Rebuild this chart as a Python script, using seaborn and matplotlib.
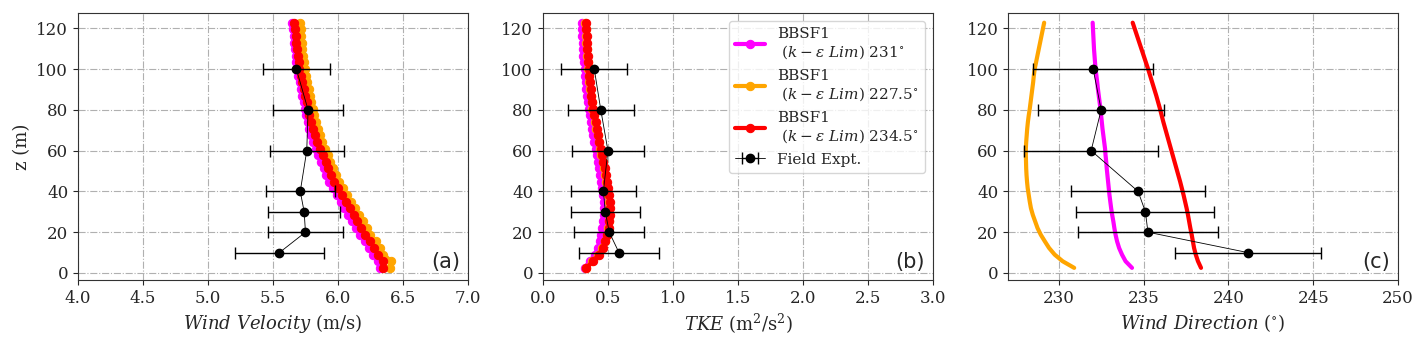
import numpy as np
import matplotlib
matplotlib.use("Agg")
import matplotlib.pyplot as plt
import seaborn as sns
import pandas as pd

# heights of the CFD profile points (m)
z_cfd = [2.5, 5.75, 9.0, 12.25, 15.5, 18.75, 22.0, 25.25, 28.5, 31.75, 35.0, 38.25, 41.5,
         44.75, 48.0, 51.25, 54.5, 57.75, 61.0, 64.25, 67.5, 70.75, 74.0, 77.25, 80.5,
         83.75, 87.0, 90.25, 93.5, 96.75, 100.0, 103.25, 106.5, 109.75, 113.0, 116.25,
         119.5, 122.75]

# wind velocity profiles (m/s)
vel_231 = [6.32, 6.31, 6.27, 6.24, 6.21, 6.17, 6.14, 6.11, 6.08, 6.05, 6.02, 5.99, 5.96,
           5.93, 5.91, 5.89, 5.87, 5.85, 5.83, 5.81, 5.795, 5.78, 5.77, 5.755, 5.745,
           5.735, 5.725, 5.715, 5.705, 5.695, 5.685, 5.68, 5.675, 5.67, 5.665, 5.66,
           5.655, 5.65]
vel_2275 = [6.40, 6.41, 6.35, 6.32, 6.29, 6.25, 6.22, 6.19, 6.16, 6.13, 6.10, 6.07, 6.04,
            6.01, 5.985, 5.962, 5.94, 5.92, 5.90, 5.88, 5.862, 5.846, 5.834, 5.818, 5.807,
            5.796, 5.785, 5.774, 5.764, 5.754, 5.744, 5.738, 5.732, 5.727, 5.722, 5.717,
            5.712, 5.708]
vel_2345 = [6.35, 6.35, 6.31, 6.28, 6.25, 6.21, 6.18, 6.15, 6.12, 6.09, 6.06, 6.03, 6.00,
            5.97, 5.95, 5.925, 5.905, 5.885, 5.862, 5.84, 5.823, 5.807, 5.795, 5.78, 5.77,
            5.758, 5.747, 5.736, 5.725, 5.714, 5.704, 5.698, 5.691, 5.685, 5.679, 5.674,
            5.669, 5.665]

# TKE profiles (m2/s2)
tke_231 = [0.32, 0.36, 0.40, 0.425, 0.44, 0.45, 0.458, 0.465, 0.468, 0.47, 0.468, 0.463,
           0.457, 0.45, 0.442, 0.433, 0.424, 0.415, 0.405, 0.396, 0.387, 0.378, 0.369,
           0.36, 0.352, 0.346, 0.34, 0.335, 0.33, 0.325, 0.32, 0.316, 0.312, 0.309, 0.306,
           0.303, 0.301, 0.30]
tke_2275 = [0.332, 0.381, 0.425, 0.455, 0.475, 0.49, 0.50, 0.506, 0.51, 0.511, 0.508, 0.502,
            0.495, 0.487, 0.478, 0.469, 0.46, 0.45, 0.44, 0.43, 0.42, 0.41, 0.40, 0.39,
            0.381, 0.374, 0.368, 0.362, 0.357, 0.352, 0.348, 0.344, 0.34, 0.337, 0.334,
            0.331, 0.328, 0.325]
tke_2345 = [0.335, 0.385, 0.43, 0.46, 0.48, 0.495, 0.505, 0.511, 0.515, 0.516, 0.513, 0.507,
            0.50, 0.492, 0.483, 0.474, 0.465, 0.455, 0.445, 0.435, 0.425, 0.415, 0.405,
            0.395, 0.386, 0.379, 0.373, 0.367, 0.362, 0.357, 0.353, 0.349, 0.345, 0.342,
            0.339, 0.336, 0.333, 0.33]

# wind direction profiles (deg)
dir_231 = [234.31, 233.93, 233.72, 233.55, 233.43, 233.34, 233.27, 233.21, 233.14, 233.08,
           233.03, 232.98, 232.94, 232.9, 232.86, 232.82, 232.79, 232.75, 232.72, 232.67,
           232.62, 232.57, 232.53, 232.49, 232.45, 232.4, 232.35, 232.3, 232.26, 232.21,
           232.16, 232.13, 232.1, 232.07, 232.05, 232.03, 232.01, 231.99]
dir_2275 = [230.9, 230.22, 229.75, 229.42, 229.17, 228.93, 228.74, 228.6, 228.46, 228.35,
            228.28, 228.22, 228.16, 228.12, 228.09, 228.07, 228.06, 228.05, 228.05, 228.07,
            228.1, 228.13, 228.17, 228.22, 228.28, 228.33, 228.38, 228.43, 228.48, 228.52,
            228.57, 228.65, 228.73, 228.81, 228.89, 228.97, 229.05, 229.13]
dir_2345 = [238.38, 238.2, 238.07, 237.97, 237.9, 237.83, 237.75, 237.68, 237.61, 237.53,
            237.44, 237.35, 237.25, 237.15, 237.04, 236.93, 236.82, 236.71, 236.6, 236.49,
            236.38, 236.27, 236.16, 236.06, 235.96, 235.85, 235.74, 235.62, 235.5, 235.38,
            235.26, 235.13, 235.0, 234.87, 234.74, 234.61, 234.48, 234.35]

# field experiment
z_exp = [10, 20, 30, 40, 60, 80, 100]
vel_exp = [5.55, 5.75, 5.74, 5.71, 5.76, 5.77, 5.68]
vel_err = [0.34, 0.29, 0.275, 0.265, 0.285, 0.27, 0.255]
tke_exp = [0.585, 0.51, 0.48, 0.465, 0.50, 0.445, 0.395]
tke_err = [0.31, 0.27, 0.265, 0.25, 0.28, 0.255, 0.255]
dir_exp = [241.14, 235.25, 235.1, 234.67, 231.9, 232.49, 232.02]
dir_err = [4.29, 4.11, 4.07, 3.94, 3.97, 3.71, 3.54]

case_labels = ["BBSF1\n $(k-\\varepsilon\\ Lim)$ 231$^{\\circ}$",
               "BBSF1\n $(k-\\varepsilon\\ Lim)$ 227.5$^{\\circ}$",
               "BBSF1\n $(k-\\varepsilon\\ Lim)$ 234.5$^{\\circ}$"]
case_colors = ["#ff00ff", "orange", "#ff0000"]

sns.set_style("ticks")
plt.rcParams["font.family"] = ["DejaVu Serif"]
plt.rcParams["mathtext.fontset"] = "dejavuserif"
plt.rcParams["axes.edgecolor"] = "#333333"

fig = plt.figure(figsize=(14.25, 3.42), dpi=100)
lefts = [0.0547, 0.381, 0.7074]
axes = [fig.add_axes([l, 0.181, 0.2737, 0.781]) for l in lefts]

panels = [
    (axes[0], [vel_231, vel_2275, vel_2345], vel_exp, vel_err, True,
     (4, 7), np.arange(4.0, 7.01, 0.5), "$Wind\\ Velocity$ (m/s)", "(a)"),
    (axes[1], [tke_231, tke_2275, tke_2345], tke_exp, tke_err, True,
     (0, 3), np.arange(0.0, 3.01, 0.5), "$TKE$ (m$^2$/s$^2$)", "(b)"),
    (axes[2], [dir_231, dir_2275, dir_2345], dir_exp, dir_err, False,
     (227, 250), np.arange(230, 251, 5), "$Wind\\ Direction$ ($^{\\circ}$)", "(c)"),
]

for ax, profiles, exp, err, markers, xlim, xticks, xlabel, tag in panels:
    for vals, lab, col in zip(profiles, case_labels, case_colors):
        df = pd.DataFrame({"x": vals, "z": z_cfd})
        sns.lineplot(data=df, x="x", y="z", ax=ax, sort=False, estimator=None,
                     color=col, lw=3, marker="o" if markers else None,
                     ms=6, mec=col, label=lab, legend=False)
    ax.errorbar(exp, z_exp, xerr=err, fmt="-o", color="black", ms=6, lw=0.6,
                elinewidth=1, capsize=4, label="Field Expt.")
    ax.set_xlim(*xlim)
    ax.set_xticks(xticks)
    ax.set_ylim(-3.5, 127.5)
    ax.set_yticks(range(0, 121, 20))
    ax.grid(True, linestyle="-.", color="#b0b0b0", lw=0.8)
    ax.tick_params(labelsize=12)
    ax.set_xlabel(xlabel, fontsize=13)
    ax.set_ylabel("")
    ax.text(0.98, 0.03, tag, transform=ax.transAxes, ha="right", va="bottom",
            fontsize=15, family="DejaVu Sans")

axes[0].set_ylabel("z (m)", fontsize=13)
axes[1].legend(loc="upper right", fontsize=11)

fig.savefig("out.png", dpi=100)
